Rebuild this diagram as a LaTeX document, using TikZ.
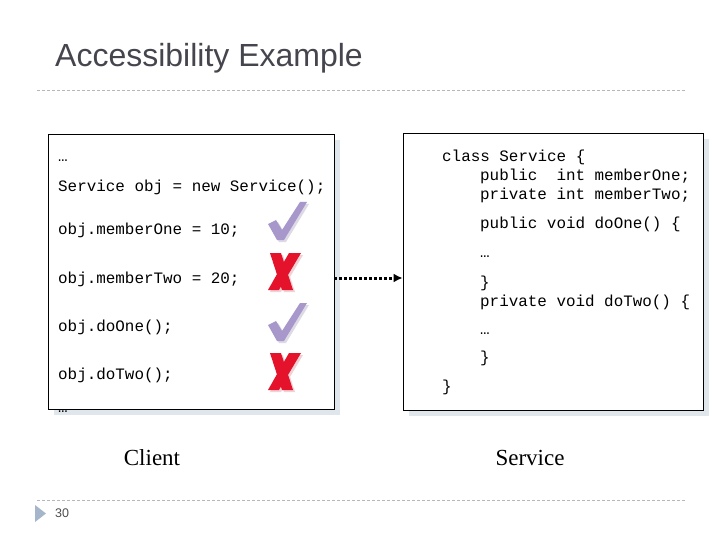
\documentclass[tikz,border=0pt]{standalone}
\usepackage{fontspec}
\setmainfont{Liberation Serif}
\setsansfont{Liberation Sans}
\setmonofont{Liberation Mono}
\usetikzlibrary{positioning,shadows,arrows.meta}
\definecolor{titlegrey}{HTML}{45454D}
\definecolor{rulegrey}{HTML}{B4B8BC}
\definecolor{boxshadow}{HTML}{DFE6EC}
\definecolor{okpurple}{HTML}{A797CB}
\definecolor{okshadow}{HTML}{DDDAE6}
\definecolor{nored}{HTML}{E5122C}
\definecolor{noshadow}{HTML}{EFD2D6}
\definecolor{markblue}{HTML}{A6B6CA}

\begin{document}
\begin{tikzpicture}[x=1pt,y=-1pt,
                    codebox/.style={draw=black, line width=0.8pt, fill=white,
                    drop shadow={shadow xshift=6pt, shadow yshift=-6pt,
                    fill=boxshadow, opacity=1}},
                    code/.style={font=\fontsize{15.9}{19}\ttfamily,
                    anchor=base west, inner sep=0pt},
                    sidelabel/.style={font=\fontsize{23}{26}\rmfamily},
                    rule/.style={rulegrey, line width=0.8pt, dash pattern=on 3pt off 2pt},
                    callarrow/.style={line width=3pt, dash pattern=on 3pt off 2pt,
                    -{Latex[length=9pt,width=9pt]}},
                ]
                \useasboundingbox (0,0) rectangle (720,540);

                \node[anchor=base west, inner sep=0pt, titlegrey,
                font=\fontsize{32}{35}\sffamily] (title) at (55,67) {Accessibility Example};
                \draw[rule] (37,90.5) -- (685,90.5);
                \draw[rule] (37,500.5) -- (685,500.5);

                % boxes
                \node[codebox, minimum width=286pt, minimum height=275pt] (clientbox) at (191,271.5) {};
                \node[codebox, minimum width=300pt, minimum height=277pt] (servicebox) at (553,271.5) {};

                % client code
                \node[code] (cl0) at (58,162) {…};
                \node[code] (cl1) at (58,192) {Service obj = new Service();};
                \node[code] (cl2) at (58,235) {obj.memberOne = 10;};
                \node[code] (cl3) at (58,283) {obj.memberTwo = 20;};
                \node[code] (cl4) at (58,331) {obj.doOne();};
                \node[code] (cl5) at (58,379) {obj.doTwo();};
                \node[code] (cl6) at (58,412) {…};

                % service code
                \node[code] (sv0) at (442,162) {class Service \{};
                \node[code] (sv1) at (480,181) {public~~int memberOne;};
                \node[code] (sv2) at (480,200) {private int memberTwo;};
                \node[code] (sv3) at (480,229) {public void doOne() \{};
                \node[code] (sv4) at (480,257) {…};
                \node[code] (sv5) at (480,287) {\}};
                \node[code] (sv6) at (480,306) {private void doTwo() \{};
                \node[code] (sv7) at (480,334) {…};
                \node[code] (sv8) at (480,362) {\}};
                \node[code] (sv9) at (442,391) {\}};

                % allowed marks
                \foreach \y in {221,322} {
                    \fill[okshadow, shift={(289,\y+2)}] (-19,3) -- (-11,-1) -- (-5,9)
                        -- (13,-19) -- (20,-19) -- (-3,19) -- (-10,19) -- cycle;
                    \fill[okpurple, shift={(287,\y)}] (-19,3) -- (-11,-1) -- (-5,9)
                        -- (13,-19) -- (20,-19) -- (-3,19) -- (-10,19) -- cycle;
                }
                % refused marks
                \foreach \x/\y/\c in {286/273.5/noshadow,284/271.5/nored,286/373.5/noshadow,284/371.5/nored} {
                    \fill[\c, shift={(\x,\y)}]
                        (-14,-18.5) -- (-3,-18.5) -- (-0.1,-9.5) -- (5,-18.5) -- (17,-18.5)
                        -- (4.1,3.3) -- (9,18.5) -- (-2,18.5) -- (-3.1,15.2) -- (-5,18.5)
                        -- (-16,18.5) -- (-7.1,2.8) -- cycle;
                }

                \draw[callarrow] ([yshift=-6.5pt]clientbox.east) -- ([yshift=-6.5pt]servicebox.west);

                \node[sidelabel] (client) at (152,458) {Client};
                \node[sidelabel] (service) at (530,458) {Service};

                % footer
                \fill[markblue] (35,505) -- (46,513.5) -- (35,522) -- cycle;
                \node[anchor=base west, inner sep=0pt, black!70,
                font=\fontsize{12.5}{14}\sffamily] (page) at (55,517.5) {30};
            \end{tikzpicture}
\end{document}
